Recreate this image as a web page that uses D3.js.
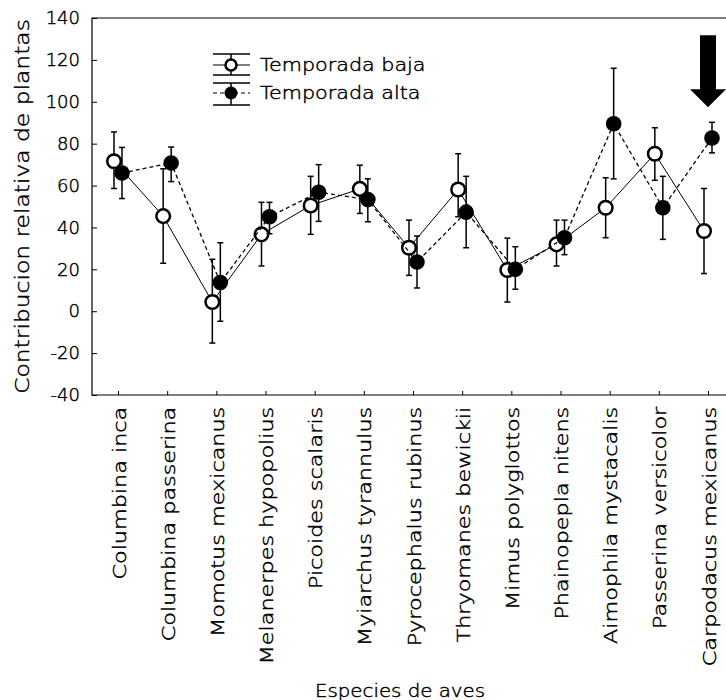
<!DOCTYPE html>
<html>
<head>
<meta charset="utf-8">
<script src="https://cdn.jsdelivr.net/npm/d3@7"></script>
<style>
  html, body { margin: 0; padding: 0; background: #fff; }
  svg { display: block; font-family: "DejaVu Sans", sans-serif; }
  /* letra fina, pero negra */
  text { font-weight: 200; fill: #000; stroke: #000; stroke-width: 0.45px; }
</style>
</head>
<body>
<div id="chart"></div>
<script>
// especies (eje x)
const species = [
  'Columbina inca', 'Columbina passerina', 'Momotus mexicanus', 'Melanerpes hypopolius',
  'Picoides scalaris', 'Myiarchus tyrannulus', 'Pyrocephalus rubinus', 'Thryomanes bewickii',
  'Mimus polyglottos', 'Phainopepla nitens', 'Aimophila mystacalis', 'Passerina versicolor',
  'Carpodacus mexicanus'
];

// temporada baja: media y limites del error
const bajaMean = [71.6, 45.4, 4.4, 36.7, 50.5, 58.4, 30.3, 58.1, 19.7, 31.9, 49.4, 75.2, 38.3];
const bajaHigh = [85.6, 68.0, 24.8, 52.0, 64.4, 69.7, 43.5, 75.2, 34.9, 43.5, 63.7, 87.6, 58.6];
const bajaLow = [58.6, 22.9, -15.2, 21.6, 36.7, 46.7, 17.1, 45.1, 4.4, 21.6, 35.1, 62.5, 18.0];

// temporada alta
const altaMean = [66.0, 70.8, 13.7, 45.1, 56.8, 53.3, 23.5, 47.3, 20.0, 35.1, 89.5, 49.4, 82.7];
const altaHigh = [78.2, 78.4, 32.7, 52.0, 70.0, 63.2, 35.9, 64.4, 30.8, 43.5, 116.0, 64.4, 90.2];
const altaLow = [53.8, 61.9, -4.8, 37.0, 42.9, 42.7, 11.1, 30.3, 10.5, 27.0, 63.2, 34.3, 75.6];

const yTicks = [-40, -20, 0, 20, 40, 60, 80, 100, 120, 140];

const width = 726, height = 700;
const margin = { top: 18, right: 0, bottom: 305, left: 92 };

const svg = d3.select('#chart').append('svg')
  .attr('width', width)
  .attr('height', height);

const x = d3.scalePoint()
  .domain(species)
  .range([118, 708]);

const y = d3.scaleLinear()
  .domain([-40, 140])
  .range([height - margin.bottom, margin.top]);

const off = 4; // desplazamiento horizontal de cada serie

// marco: arriba, izquierda y abajo
svg.append('path')
  .attr('d', `M${width},${margin.top}H${margin.left}V${y(-40)}H${width}`)
  .attr('fill', 'none')
  .attr('stroke', '#000')
  .attr('stroke-width', 1.2);

// eje y (ticks hacia adentro)
const yAxis = svg.append('g')
  .attr('transform', `translate(${margin.left},0)`)
  .call(d3.axisLeft(y).tickValues(yTicks).tickSize(-5).tickPadding(12).tickFormat((d) => String(d)));
yAxis.select('.domain').remove();
yAxis.selectAll('line').attr('stroke', '#000');
yAxis.selectAll('text')
  .attr('font-size', 18)
  .attr('font-family', '"DejaVu Sans", sans-serif');

// eje x (texto estirado para parecerse a la fuente original, mas ancha)
const xAxis = svg.append('g')
  .attr('transform', `translate(0,${y(-40)})`)
  .call(d3.axisBottom(x).tickSize(-4).tickPadding(10));
xAxis.select('.domain').remove();
xAxis.selectAll('line').attr('stroke', '#000');
xAxis.selectAll('text')
  .attr('font-size', 18)
  .attr('font-family', '"DejaVu Sans", sans-serif')
  .attr('text-anchor', 'end')
  .attr('dy', null)
  .attr('transform', 'rotate(-90) scale(1.24,1)')
  .attr('x', -9.5)
  .attr('y', 7);

// titulos
svg.append('text')
  .attr('transform', `translate(29,${(margin.top + y(-40)) / 2}) rotate(-90) scale(1.17,1)`)
  .attr('text-anchor', 'middle')
  .attr('font-size', 20)
  .text('Contribucion relativa de plantas');

svg.append('text')
  .attr('transform', 'translate(400,697) scale(1.1,1)')
  .attr('text-anchor', 'middle')
  .attr('font-size', 18)
  .text('Especies de aves');

const series = [
  { mean: bajaMean, low: bajaLow, high: bajaHigh, dx: -off, fill: '#fff', dash: null },
  { mean: altaMean, low: altaLow, high: altaHigh, dx: off, fill: '#000', dash: '4,3' }
];

series.forEach((s) => {
  const pts = species.map((sp, i) => ({ x: x(sp) + s.dx, m: s.mean[i], lo: s.low[i], hi: s.high[i] }));

  // linea que une las medias
  svg.append('path')
    .datum(pts)
    .attr('fill', 'none')
    .attr('stroke', '#000')
    .attr('stroke-width', s.dash ? 1.3 : 1)
    .attr('stroke-dasharray', s.dash)
    .attr('d', d3.line().x((d) => d.x).y((d) => y(d.m)));

  // barras de error
  const eb = svg.append('g').attr('stroke', '#000').attr('stroke-width', 1.5);
  eb.selectAll('.v').data(pts).join('line')
    .attr('x1', (d) => d.x).attr('x2', (d) => d.x)
    .attr('y1', (d) => y(d.lo)).attr('y2', (d) => y(d.hi));
  ['lo', 'hi'].forEach((k) => {
    eb.selectAll('.c' + k).data(pts).join('line')
      .attr('x1', (d) => d.x - 3).attr('x2', (d) => d.x + 3)
      .attr('y1', (d) => y(d[k])).attr('y2', (d) => y(d[k]));
  });

  // marcadores
  svg.append('g').selectAll('circle').data(pts).join('circle')
    .attr('cx', (d) => d.x)
    .attr('cy', (d) => y(d.m))
    .attr('r', s.fill === '#fff' ? 6.8 : 7.8)
    .attr('fill', s.fill)
    .attr('stroke', '#000')
    .attr('stroke-width', s.fill === '#fff' ? 2.5 : 0);
});

// leyenda
const legend = svg.append('g').attr('stroke', '#000');
const lx0 = 213, lx1 = 250, lc = 231;
[[54, 65, 75, 'Temporada baja', '#fff', null], [83, 93, 105, 'Temporada alta', '#000', '4,3']]
  .forEach(([t, m, b, label, fill, dash]) => {
    legend.append('line').attr('x1', lx0).attr('x2', lx1).attr('y1', t).attr('y2', t).attr('stroke-width', 1.5);
    legend.append('line').attr('x1', lx0).attr('x2', lx1).attr('y1', b).attr('y2', b).attr('stroke-width', 1.5);
    legend.append('line').attr('x1', lx0).attr('x2', lx1).attr('y1', m).attr('y2', m)
      .attr('stroke-width', 1.2).attr('stroke-dasharray', dash);
    legend.append('line').attr('x1', lc).attr('x2', lc).attr('y1', t).attr('y2', b).attr('stroke-width', 1.5);
    legend.append('circle').attr('cx', lc).attr('cy', m)
      .attr('r', fill === '#fff' ? 5.5 : 6.5)
      .attr('fill', fill)
      .attr('stroke-width', fill === '#fff' ? 2.5 : 0);
    svg.append('text')
      .attr('transform', `translate(260,${m + 6}) scale(1.15,1)`)
      .attr('font-size', 18)
      .text(label);
  });

// flecha sobre Carpodacus mexicanus
const ax = x(species[species.length - 1]);
const tip = y(altaHigh[altaHigh.length - 1]) - 15;
svg.append('path')
  .attr('d', `M${ax - 8},${tip - 72}H${ax + 8}V${tip - 18}H${ax + 18}L${ax},${tip}L${ax - 18},${tip - 18}H${ax - 8}Z`)
  .attr('fill', '#000');
</script>
</body>
</html>
